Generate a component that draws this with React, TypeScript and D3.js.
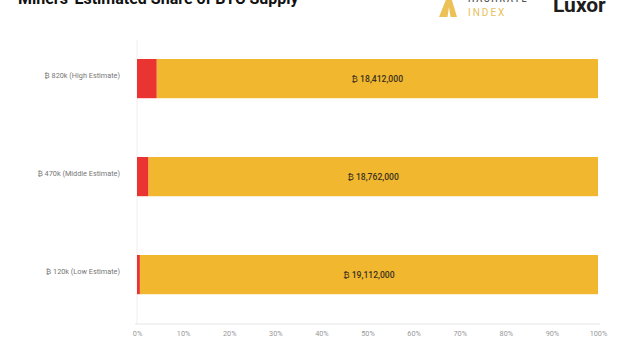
import { useEffect, useRef } from "react";
import * as d3 from "d3";

// estimates of miner-held BTC vs the rest of circulating supply
const categories = [
  "₿ 820k (High Estimate)",
  "₿ 470k (Middle Estimate)",
  "₿ 120k (Low Estimate)",
];
const minerHoldings = [820000, 470000, 120000];
const otherSupply = [18412000, 18762000, 19112000];
const tickValues = [0, 0.1, 0.2, 0.3, 0.4, 0.5, 0.6, 0.7, 0.8, 0.9, 1];

const RED = "#EA3431";
const YELLOW = "#F0B72F";

const W = 640;
const H = 362;

const App = () => {
  const svgRef = useRef<SVGSVGElement>(null);

  useEffect(() => {
    if (!svgRef.current) return;
    const svg = d3.select(svgRef.current);
    svg.selectAll("*").remove();

    const x = d3.scaleLinear().domain([0, 1]).range([137, 598]);
    const y = d3
      .scaleBand<string>()
      .domain(categories)
      .range([39.4, 313.8])
      .paddingInner(0.6)
      .paddingOuter(0.2);

    const rows = categories.map((c, i) => {
      const total = minerHoldings[i] + otherSupply[i];
      return { c, red: minerHoldings[i] / total, other: otherSupply[i] };
    });

    svg.append("rect").attr("width", W).attr("height", H).attr("fill", "#fff");

    // title, cut off at the top of the frame
    svg
      .append("text")
      .attr("x", 18)
      .attr("y", 4)
      .attr("font-family", "Roboto, 'Liberation Sans', sans-serif")
      .attr("font-weight", 700)
      .attr("font-size", 16)
      .attr("fill", "#111")
      .text("Miners' Estimated Share of BTC Supply");

    // Hashrate Index logo
    const logo = svg.append("g").attr("transform", "translate(439,0)");
    logo
      .append("path")
      .attr("d", "M0,17 L8,-3 L12,-3 L18,17 Z")
      .attr("fill", "#ECC257");
    logo
      .append("path")
      .attr("d", "M8.5,17 L10,7 L11.5,17 Z")
      .attr("fill", "#fff");
    logo
      .append("text")
      .attr("x", 29)
      .attr("y", 2)
      .attr("font-family", "Roboto, sans-serif")
      .attr("font-weight", 500)
      .attr("font-size", 9)
      .attr("letter-spacing", 1.8)
      .attr("fill", "#555")
      .text("HASHRATE");
    logo
      .append("text")
      .attr("x", 29)
      .attr("y", 16)
      .attr("font-family", "Roboto, sans-serif")
      .attr("font-size", 10)
      .attr("letter-spacing", 2)
      .attr("fill", "#E8C15A")
      .text("INDEX");

    svg
      .append("text")
      .attr("x", 553)
      .attr("y", 12)
      .attr("font-family", "Roboto, 'Liberation Sans', sans-serif")
      .attr("font-weight", 700)
      .attr("font-size", 21)
      .attr("fill", "#1d1d1d")
      .text("Luxor");

    // faint axis lines
    svg
      .append("line")
      .attr("x1", x(0))
      .attr("x2", x(0))
      .attr("y1", 40)
      .attr("y2", 324)
      .attr("stroke", "#eee");
    svg
      .append("line")
      .attr("x1", x(0) - 2)
      .attr("x2", x(1) + 2)
      .attr("y1", 324)
      .attr("y2", 324)
      .attr("stroke", "#e6e6e6");

    const bars = svg
      .selectAll("g.row")
      .data(rows)
      .enter()
      .append("g")
      .attr("class", "row");

    bars
      .append("rect")
      .attr("x", (d) => x(d.red))
      .attr("y", (d) => y(d.c)!)
      .attr("width", (d) => x(1) - x(d.red))
      .attr("height", y.bandwidth())
      .attr("fill", YELLOW);

    bars
      .append("rect")
      .attr("x", x(0))
      .attr("y", (d) => y(d.c)!)
      .attr("width", (d) => x(d.red) - x(0))
      .attr("height", y.bandwidth())
      .attr("fill", RED);

    bars
      .append("text")
      .attr("x", (d) => (x(d.red) + x(1)) / 2)
      .attr("y", (d) => y(d.c)! + y.bandwidth() / 2)
      .attr("dy", "0.35em")
      .attr("text-anchor", "middle")
      .attr("font-family", "Roboto, sans-serif")
      .attr("font-weight", 500)
      .attr("font-size", 8.6)
      .attr("fill", "#3b3120")
      .text((d) => `₿ ${d3.format(",")(d.other)}`);

    bars
      .append("text")
      .attr("x", 120)
      .attr("y", (d) => y(d.c)! + y.bandwidth() / 2 - 3)
      .attr("dy", "0.35em")
      .attr("text-anchor", "end")
      .attr("font-family", "Roboto, sans-serif")
      .attr("font-size", 7.3)
      .attr("fill", "#777")
      .text((d) => d.c);

    const axis = d3
      .axisBottom(x)
      .tickValues(tickValues)
      .tickFormat(d3.format(".0%"))
      .tickSize(0)
      .tickPadding(6);

    const ax = svg.append("g").attr("transform", "translate(0,325)").call(axis);
    ax.select(".domain").remove();
    ax.selectAll("text")
      .attr("font-family", "Roboto, sans-serif")
      .attr("font-size", 7.3)
      .attr("fill", "#999");
  }, []);

  return (
    <div style={{ position: "fixed", left: 0, top: 0 }}>
      <svg ref={svgRef} width={W} height={H} style={{ display: "block" }} />
    </div>
  );
};

export default App;
